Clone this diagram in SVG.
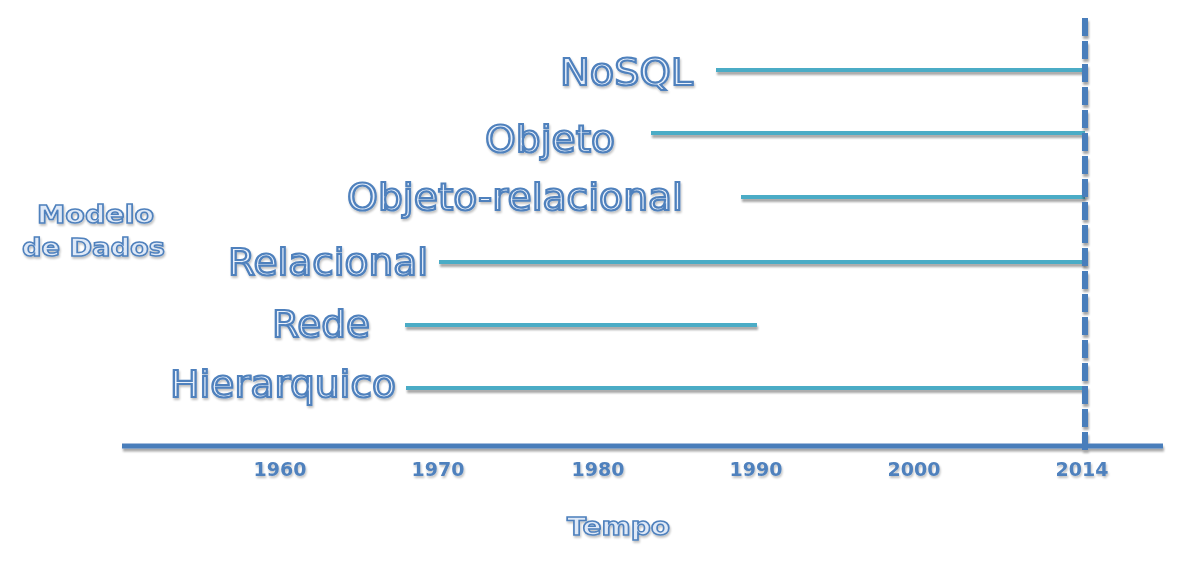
<svg xmlns="http://www.w3.org/2000/svg" width="1197" height="566" viewBox="0 0 1197 566">
<defs>
<filter id="sh" x="-5%" y="-50%" width="110%" height="300%">
<feGaussianBlur in="SourceAlpha" stdDeviation="1.2"/>
<feOffset dx="1" dy="3" result="b"/>
<feComponentTransfer><feFuncA type="linear" slope="0.35"/></feComponentTransfer>
<feMerge><feMergeNode/><feMergeNode in="SourceGraphic"/></feMerge>
</filter>
<filter id="tsh" x="-5%" y="-20%" width="110%" height="150%">
<feGaussianBlur in="SourceAlpha" stdDeviation="1"/>
<feOffset dx="1" dy="2"/>
<feComponentTransfer><feFuncA type="linear" slope="0.25"/></feComponentTransfer>
<feMerge><feMergeNode/><feMergeNode in="SourceGraphic"/></feMerge>
</filter>
</defs>
<style>
.lbl{font-family:"DejaVu Sans",Verdana,sans-serif;font-size:38px;fill:#eaf1fb;stroke:#4f81bd;stroke-width:2.2px;filter:url(#tsh)}
.side{font-family:"DejaVu Sans",Verdana,sans-serif;font-size:25px;font-weight:bold;fill:#dfe9f7;stroke:#4f81bd;stroke-width:1.5px;filter:url(#tsh)}
.yr{font-family:"DejaVu Sans",Verdana,sans-serif;font-size:19px;font-weight:bold;fill:#4f81bd;filter:url(#tsh);text-anchor:middle}
.bar{stroke:#4bacc6;stroke-width:4;fill:none}
</style>
<rect width="1197" height="566" fill="#ffffff"/>
<g id="connectors" filter="url(#sh)">
<line class="bar" x1="716" y1="70" x2="1085" y2="70"/>
<line class="bar" x1="651" y1="133" x2="1085" y2="133"/>
<line class="bar" x1="741" y1="197" x2="1085" y2="197"/>
<line class="bar" x1="439" y1="262" x2="1085" y2="262"/>
<line class="bar" x1="405" y1="325" x2="757" y2="325"/>
<line class="bar" x1="406" y1="388" x2="1085" y2="388"/>
</g>
<g id="axis" filter="url(#sh)">
<line x1="122" y1="446" x2="1163" y2="446" stroke="#4a7ebb" stroke-width="5"/>
<line x1="1085" y1="18" x2="1085" y2="453" stroke="#4a7ebb" stroke-width="6" stroke-dasharray="18,5"/>
</g>
<g id="n-nosql"><text class="lbl" x="560" y="85" textLength="133" lengthAdjust="spacingAndGlyphs">NoSQL</text></g>
<g id="n-objeto"><text class="lbl" x="485" y="152" textLength="130" lengthAdjust="spacingAndGlyphs">Objeto</text></g>
<g id="n-objrel"><text class="lbl" x="347" y="210" textLength="336" lengthAdjust="spacingAndGlyphs">Objeto-relacional</text></g>
<g id="n-relacional"><text class="lbl" x="228" y="275" textLength="200" lengthAdjust="spacingAndGlyphs">Relacional</text></g>
<g id="n-rede"><text class="lbl" x="272" y="337" textLength="98" lengthAdjust="spacingAndGlyphs">Rede</text></g>
<g id="n-hier"><text class="lbl" x="170" y="397" textLength="226" lengthAdjust="spacingAndGlyphs">Hierarquico</text></g>
<g id="n-modelo">
<text class="side" x="37" y="223" textLength="117" lengthAdjust="spacingAndGlyphs">Modelo</text>
<text class="side" x="22" y="256" textLength="143" lengthAdjust="spacingAndGlyphs">de Dados</text>
</g>
<g id="years">
<text class="yr" x="280" y="476">1960</text>
<text class="yr" x="438" y="476">1970</text>
<text class="yr" x="598" y="476">1980</text>
<text class="yr" x="756" y="476">1990</text>
<text class="yr" x="914" y="476">2000</text>
<text class="yr" x="1082" y="476">2014</text>
</g>
<g id="n-tempo"><text class="side" x="567" y="535" textLength="103" lengthAdjust="spacingAndGlyphs">Tempo</text></g>
</svg>
